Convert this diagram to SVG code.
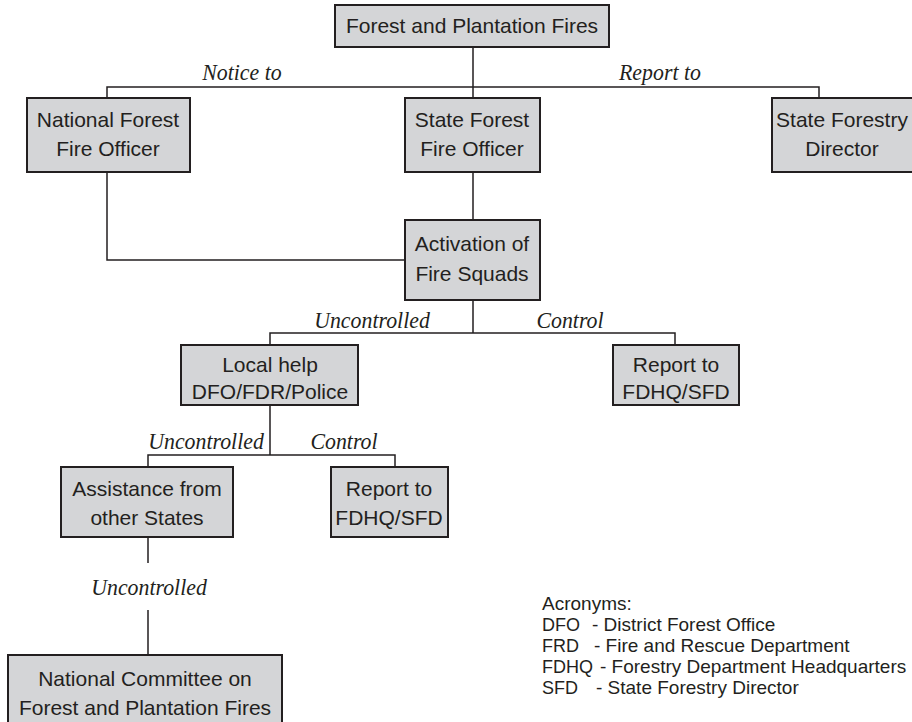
<svg xmlns="http://www.w3.org/2000/svg" width="912" height="722" viewBox="0 0 912 722">
<style>
.box{fill:#d4d5d7;stroke:#231f20;stroke-width:2}
.t{font-family:"Liberation Sans",Arial,sans-serif;font-size:21px;fill:#231f20;text-anchor:middle}
.lbl{font-family:"Liberation Serif","Times New Roman",serif;font-style:italic;font-size:23px;fill:#231f20;text-anchor:middle;transform-box:fill-box;transform-origin:center;transform:scaleX(0.95)}
.ac{font-family:"Liberation Sans",Arial,sans-serif;font-size:19px;fill:#231f20}
.key{font-size:18px}
.ln{fill:none;stroke:#231f20;stroke-width:1.5}
</style>
<rect width="912" height="722" fill="#fff"/>
<g id="connectors">
<path class="ln" d="M473 47V98M107 98V87H819V98"/>
<path class="ln" d="M107 172V260H405M473 172V220"/>
<path class="ln" d="M473 300V333M270 345V333H675V345"/>
<path class="ln" d="M270 405V455M148 467V455H395V467"/>
<path class="ln" d="M148 537V563M148 610V655"/>
</g>
<g id="labels">
<text class="lbl" x="242" y="80">Notice to</text>
<text class="lbl" x="660" y="80">Report to</text>
<text class="lbl" x="372" y="328">Uncontrolled</text>
<text class="lbl" x="570" y="328">Control</text>
<text class="lbl" x="206" y="449">Uncontrolled</text>
<text class="lbl" x="344" y="449">Control</text>
<text class="lbl" x="149" y="595">Uncontrolled</text>
</g>
<g id="n-fires"><rect class="box" x="335" y="5" width="274" height="42"/><text class="t" x="472" y="33">Forest and Plantation Fires</text></g>
<g id="n-nffo"><rect class="box" x="27" y="98" width="163" height="74"/><text class="t" x="108" y="127">National Forest</text><text class="t" x="108" y="156">Fire Officer</text></g>
<g id="n-sffo"><rect class="box" x="405" y="98" width="135" height="74"/><text class="t" x="472" y="127">State Forest</text><text class="t" x="472" y="156">Fire Officer</text></g>
<g id="n-sfd"><rect class="box" x="772" y="98" width="145" height="74"/><text class="t" x="842" y="127">State Forestry</text><text class="t" x="842" y="156">Director</text></g>
<g id="n-activation"><rect class="box" x="405" y="220" width="135" height="80"/><text class="t" x="472" y="251">Activation of</text><text class="t" x="472" y="281">Fire Squads</text></g>
<g id="n-local"><rect class="box" x="181" y="345" width="177" height="60"/><text class="t" x="270" y="372">Local help</text><text class="t" x="270" y="399">DFO/FDR/Police</text></g>
<g id="n-report1"><rect class="box" x="613" y="345" width="126" height="60"/><text class="t" x="676" y="372">Report to</text><text class="t" x="676" y="399">FDHQ/SFD</text></g>
<g id="n-assist"><rect class="box" x="61" y="467" width="172" height="70"/><text class="t" x="147" y="496">Assistance from</text><text class="t" x="147" y="525">other States</text></g>
<g id="n-report2"><rect class="box" x="331" y="467" width="117" height="70"/><text class="t" x="389" y="496">Report to</text><text class="t" x="389" y="525">FDHQ/SFD</text></g>
<g id="n-committee"><rect class="box" x="8" y="655" width="274" height="80"/><text class="t" x="145" y="686">National Committee on</text><text class="t" x="145" y="715">Forest and Plantation Fires</text></g>
<g id="acronyms">
<text class="ac" x="542" y="610">Acronyms:</text>
<text class="ac key" x="542" y="631">DFO</text><text class="ac" x="592" y="631">- District Forest Office</text>
<text class="ac key" x="542" y="652">FRD</text><text class="ac" x="594" y="652">- Fire and Rescue Department</text>
<text class="ac key" x="542" y="673">FDHQ</text><text class="ac" x="600" y="673">- Forestry Department Headquarters</text>
<text class="ac key" x="542" y="694">SFD</text><text class="ac" x="596" y="694">- State Forestry Director</text>
</g>
</svg>
